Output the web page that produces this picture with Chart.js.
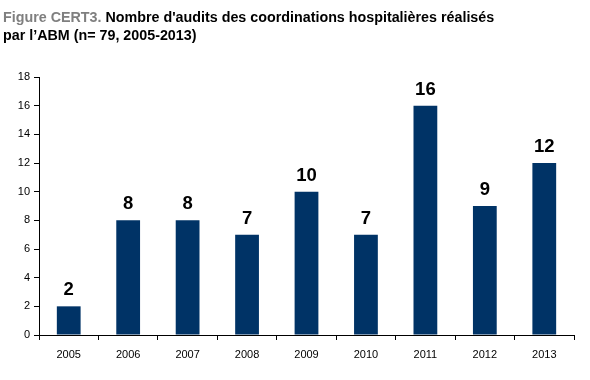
<!DOCTYPE html>
<html><head><meta charset="utf-8">
<script src="https://cdn.jsdelivr.net/npm/chart.js@4/dist/chart.umd.min.js"></script>
<style>
html,body{margin:0;padding:0;background:#fff;}
#wrap{position:relative;width:590px;height:380px;}
#title{position:absolute;left:3px;top:8px;font-family:"Liberation Sans",Arial,sans-serif;font-weight:bold;font-size:14.3px;line-height:18px;color:#000;}
#title .fig{color:#7f7f7f;}
canvas{position:absolute;left:0;top:0;}
</style></head>
<body><div id="wrap">
<canvas id="c" width="590" height="380"></canvas>
<div id="title"><span class="fig">Figure CERT3.</span> Nombre d'audits des coordinations hospitalières réalisés<br>par l’ABM (n= 79, 2005-2013)</div>
</div>
<script>
const years = ['2005','2006','2007','2008','2009','2010','2011','2012','2013'];
const audits = [2, 8, 8, 7, 10, 7, 16, 9, 12];
const yTicks = [0,2,4,6,8,10,12,14,16,18];

const labelPlugin = {
  id: 'valueLabels',
  afterDatasetsDraw(chart) {
    const ctx = chart.ctx;
    const meta = chart.getDatasetMeta(0);
    ctx.save();
    ctx.font = 'bold 18.5px "Liberation Sans", Arial, sans-serif';
    ctx.fillStyle = '#000';
    ctx.textAlign = 'center';
    ctx.textBaseline = 'alphabetic';
    meta.data.forEach((el, i) => {
      ctx.fillText(String(chart.data.datasets[0].data[i]), el.x, el.y - 11);
    });
    ctx.restore();
  }
};

new Chart(document.getElementById('c'), {
  type: 'bar',
  data: {
    labels: years,
    datasets: [{
      data: audits,
      backgroundColor: '#003366',
      borderWidth: 0,
      categoryPercentage: 1,
      barPercentage: 0.4
    }]
  },
  options: {
    responsive: false,
    animation: false,
    events: [],
    layout: { padding: { left: 0, right: 16, top: 77, bottom: 0 } },
    plugins: { legend: { display: false }, title: { display: false }, tooltip: { enabled: false } },
    scales: {
      x: {
        grid: { offset: true, drawOnChartArea: false, drawTicks: true, tickLength: 5, color: '#000' },
        border: { color: '#000', width: 1 },
        ticks: { color: '#000', font: { family: '"Liberation Sans", Arial, sans-serif', size: 11 }, padding: 8, maxRotation: 0 },
        afterFit(s) { s.height = 45; }
      },
      y: {
        min: 0, max: 18,
        afterBuildTicks(s) { s.ticks = yTicks.map(v => ({ value: v })); },
        grid: { drawOnChartArea: false, drawTicks: true, tickLength: 5, color: '#000' },
        border: { color: '#000', width: 1 },
        ticks: { color: '#000', font: { family: '"Liberation Sans", Arial, sans-serif', size: 11 }, padding: 4 },
        afterFit(s) { s.width = 39; }
      }
    }
  },
  plugins: [labelPlugin]
});
</script>
</body></html>
